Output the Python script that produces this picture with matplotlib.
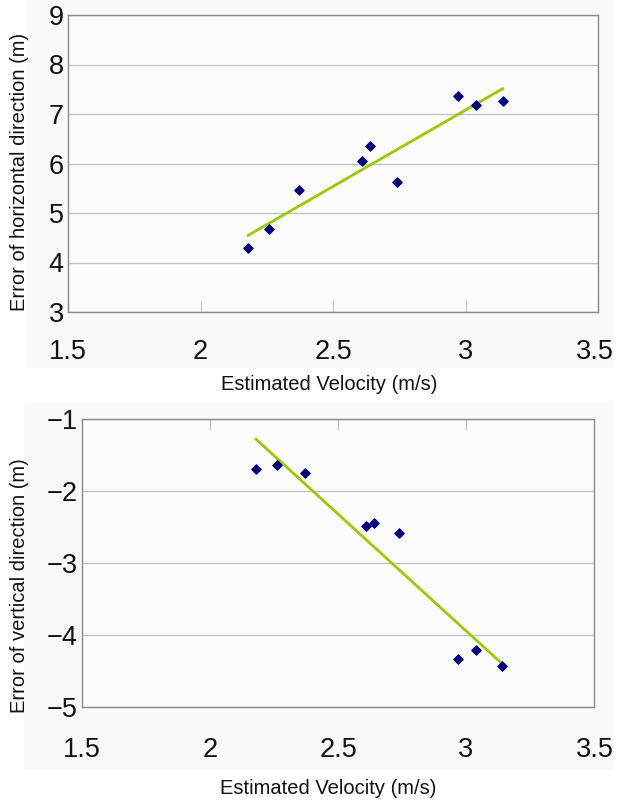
import numpy as np
import matplotlib
matplotlib.use("Agg")
import matplotlib.pyplot as plt
from matplotlib.patches import Rectangle

# Data
velocity = [2.18, 2.26, 2.37, 2.61, 2.64, 2.74, 2.97, 3.04, 3.14]
err_horizontal = [4.29, 4.68, 5.47, 6.06, 6.36, 5.62, 7.37, 7.18, 7.27]
err_vertical = [-1.70, -1.64, -1.75, -2.48, -2.45, -2.58, -4.34, -4.21, -4.43]
x_ticks = [1.5, 2, 2.5, 3, 3.5]
x_tick_labels = ["1.5", "2", "2.5", "3", "3.5"]
y_ticks_h = [3, 4, 5, 6, 7, 8, 9]
y_ticks_v = [-5, -4, -3, -2, -1]
x_label = "Estimated Velocity (m/s)"
y_label_h = "Error of horizontal direction (m)"
y_label_v = "Error of vertical direction (m)"

W, H = 618, 800
fig = plt.figure(figsize=(W / 100, H / 100), dpi=100)
fig.patch.set_facecolor("white")

tick_font = ["Liberation Sans Narrow", "DejaVu Sans Condensed", "Liberation Sans"]
label_font = ["Liberation Sans", "DejaVu Sans"]
bg = "#f8faf8"
TICK_FS = 19.5
LABEL_FS = 14.5

def px_rect(x0, y0, x1, y1):
    return [x0 / W, 1 - y1 / H, (x1 - x0) / W, (y1 - y0) / H]

# chart-area backgrounds
for (x0, y0, x1, y1) in [(26, 0, 614, 368), (24, 402, 614, 770)]:
    r = px_rect(x0, y0, x1, y1)
    fig.patches.append(Rectangle((r[0], r[1]), r[2], r[3], transform=fig.transFigure,
                                 facecolor=bg, edgecolor="none", zorder=-10))

def style(ax, yticks, top_ticks):
    ax.set_facecolor("#fbfcfb")
    for s in ax.spines.values():
        s.set_color("#8a8a8a")
        s.set_linewidth(1.0)
    ax.set_xlim(1.5, 3.5)
    ax.set_xticks(x_ticks)
    ax.set_xticklabels([])
    ax.set_yticks(yticks)
    ax.set_ylim(yticks[0], yticks[-1])
    ax.yaxis.grid(True, color="#c4c4c4", linewidth=1.0)
    ax.set_axisbelow(True)
    ax.tick_params(axis="y", length=0, pad=3, labelsize=TICK_FS)
    if top_ticks:
        ax.tick_params(axis="x", direction="in", length=8, color="#c4c4c4",
                       bottom=False, top=True)
    else:
        ax.tick_params(axis="x", direction="in", length=8, color="#c4c4c4")
    for lab in ax.get_yticklabels():
        lab.set_family(tick_font)
        lab.set_color("#111111")

def fit_line(ax, x, y):
    x = np.asarray(x)
    y = np.asarray(y)
    k, b = np.polyfit(x, y, 1)
    xs = np.array([x.min(), x.max()])
    ax.plot(xs, k * xs + b, color="#99cc00", linewidth=2.0, zorder=2)

def xlabels(ax, ypx):
    x0, x1 = ax.get_position().x0, ax.get_position().x1
    for i, (xv, t) in enumerate(zip(x_ticks, x_tick_labels)):
        fx = x0 + (xv - 1.5) / 2.0 * (x1 - x0)
        ha = "center"
        if i == len(x_ticks) - 1:
            fx = 614 / W
            ha = "right"
        fig.text(fx, 1 - ypx / H, t, ha=ha, va="center", fontsize=TICK_FS,
                 family=tick_font, color="#111111")

# Top panel
ax1 = fig.add_axes(px_rect(68, 15, 598, 312))
style(ax1, y_ticks_h, False)
ax1.scatter(velocity, err_horizontal, marker="D", s=22, color="#000080", zorder=3)
fit_line(ax1, velocity, err_horizontal)
xlabels(ax1, 352)
fig.text(329 / W, 1 - 384 / H, x_label, ha="center", va="center", fontsize=LABEL_FS,
         family=label_font, color="#111111")
fig.text(20 / W, 1 - 172 / H, y_label_h, ha="center", va="center", fontsize=LABEL_FS,
         rotation=90, family=label_font, color="#111111")

# Bottom panel
ax2 = fig.add_axes(px_rect(82, 419, 594, 707))
style(ax2, y_ticks_v, True)
ax2.scatter(velocity, err_vertical, marker="D", s=22, color="#000080", zorder=3)
fit_line(ax2, velocity, err_vertical)
xlabels(ax2, 750)
fig.text(328 / W, 1 - 788 / H, x_label, ha="center", va="center", fontsize=LABEL_FS,
         family=label_font, color="#111111")
fig.text(20 / W, 1 - 586 / H, y_label_v, ha="center", va="center", fontsize=LABEL_FS,
         rotation=90, family=label_font, color="#111111")

fig.savefig("out.png", dpi=100)
